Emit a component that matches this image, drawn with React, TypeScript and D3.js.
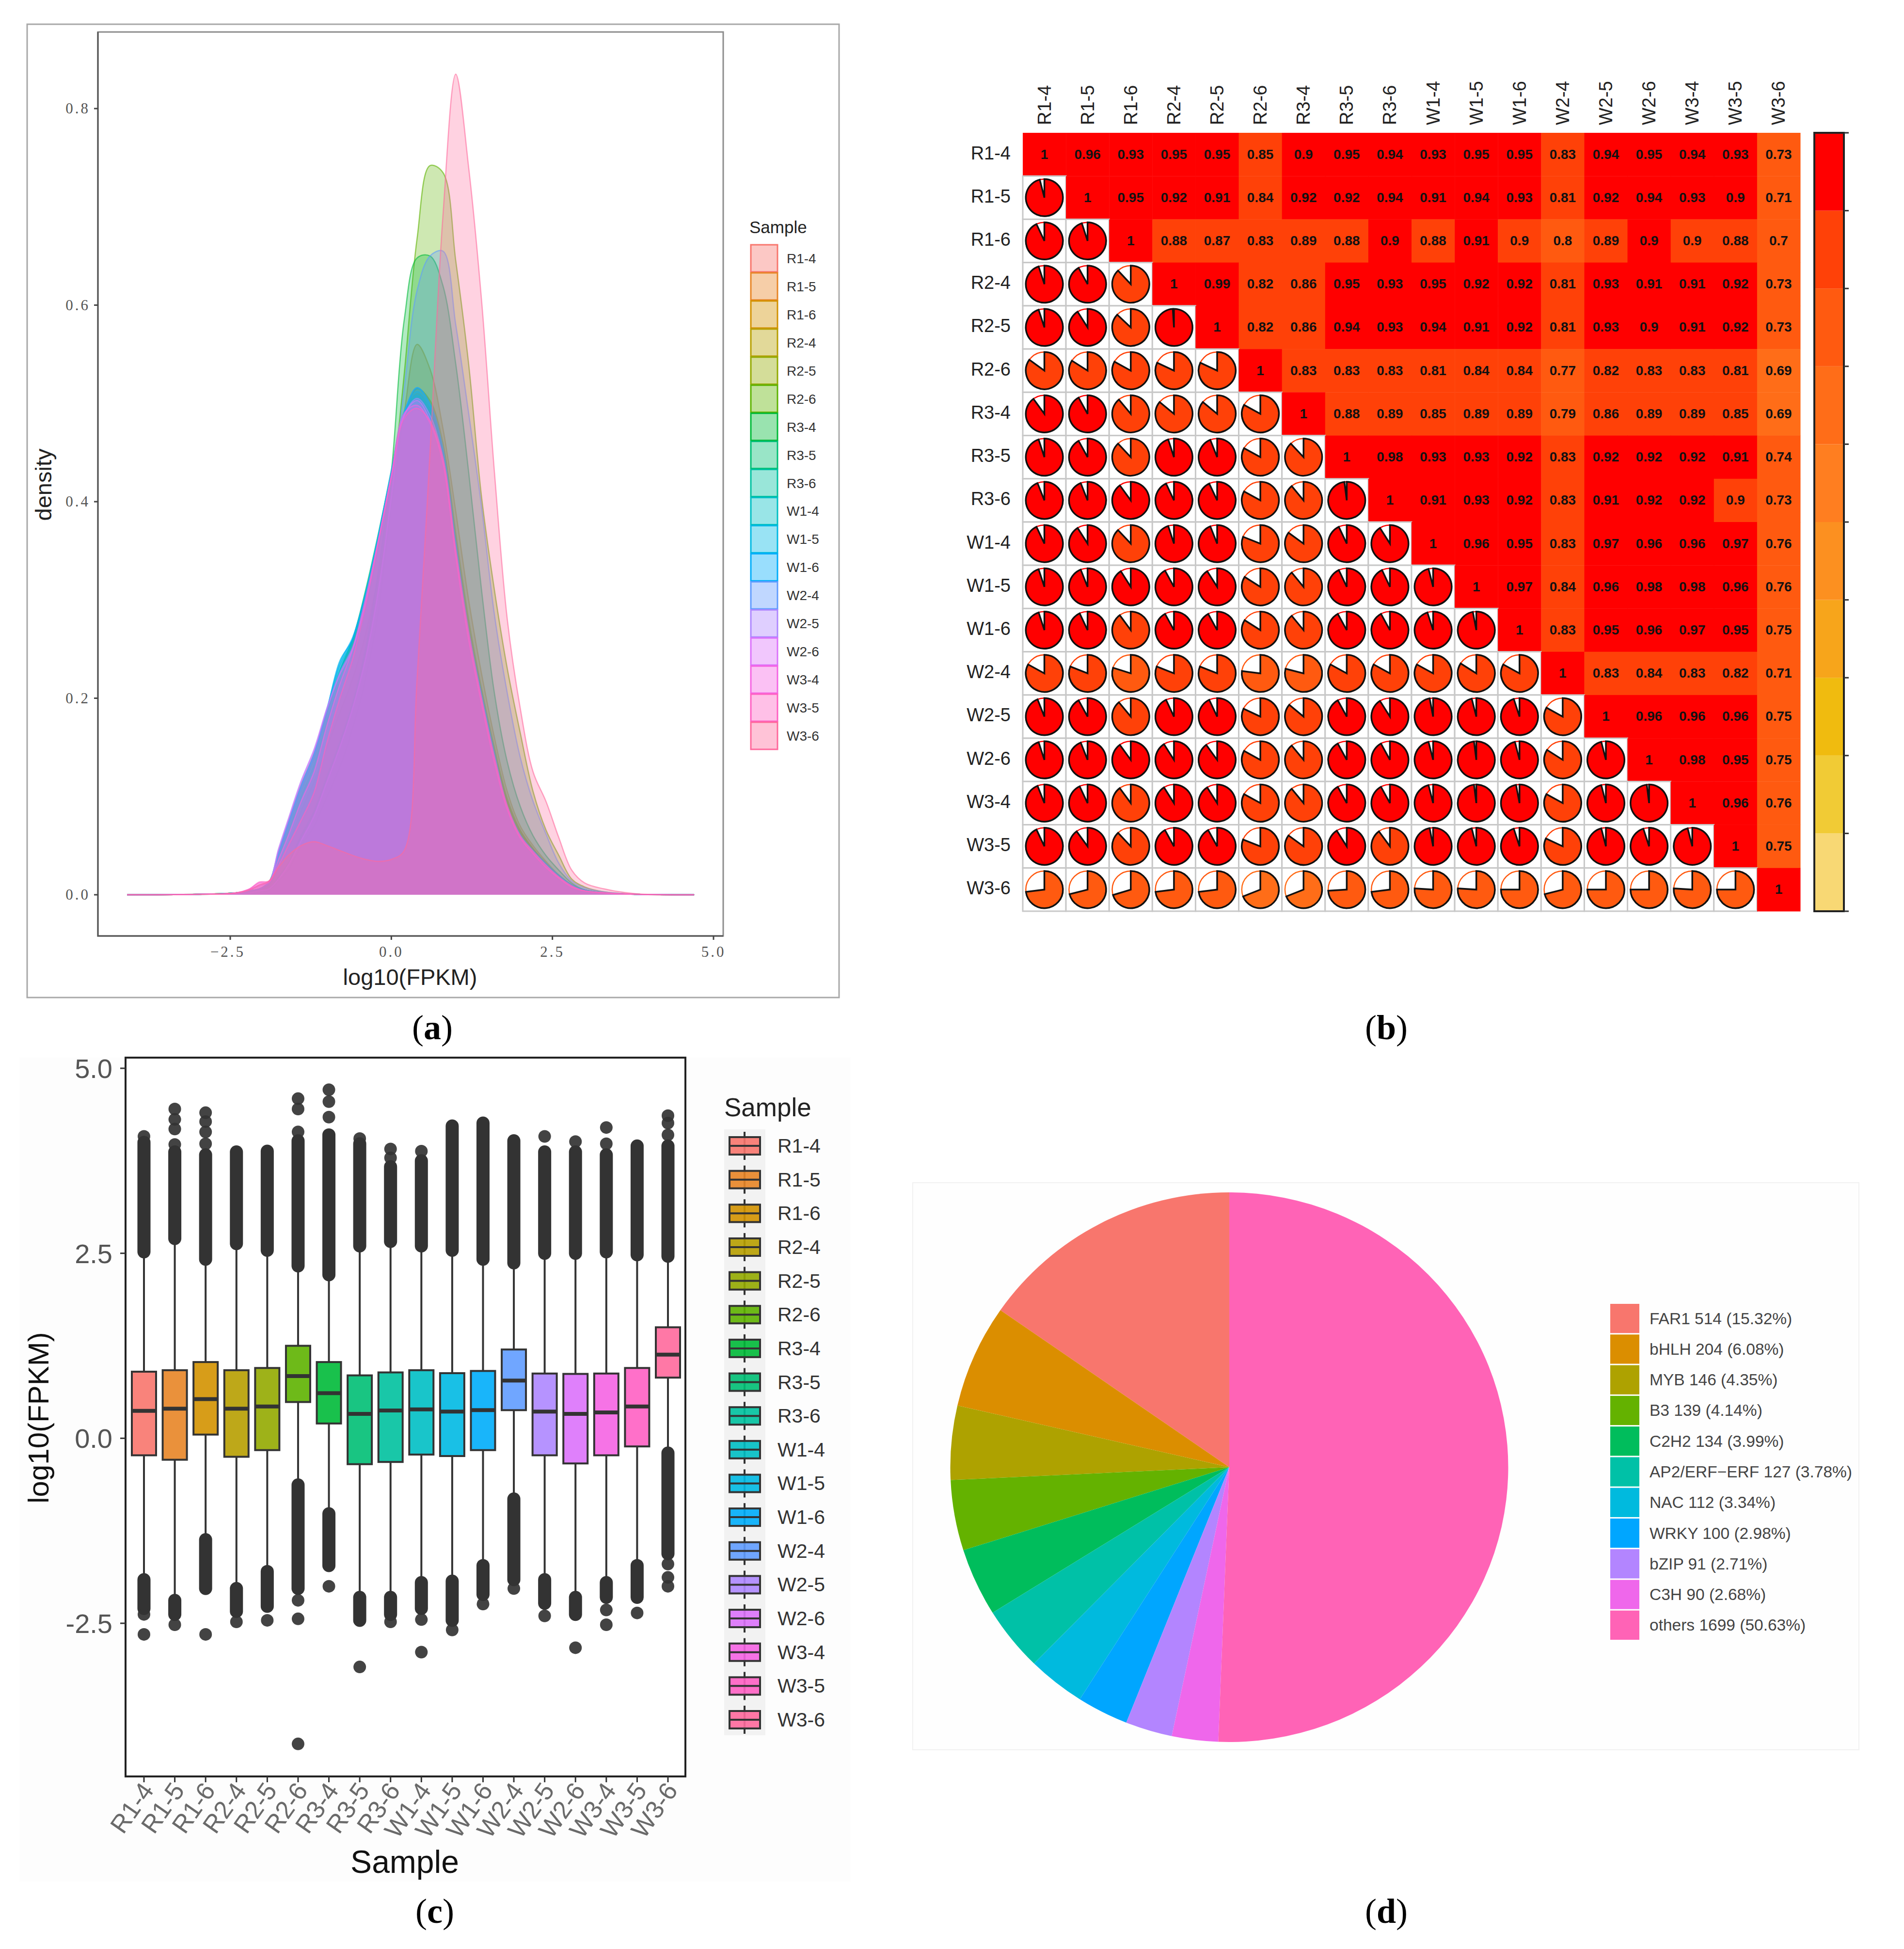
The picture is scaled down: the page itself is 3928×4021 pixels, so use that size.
import React from "react";
import * as d3 from "d3";

const samples = ["R1-4","R1-5","R1-6","R2-4","R2-5","R2-6","R3-4","R3-5","R3-6","W1-4","W1-5","W1-6","W2-4","W2-5","W2-6","W3-4","W3-5","W3-6"];
const hue18 = ["#F8766D","#E88526","#D39200","#B79F00","#93AA00","#5EB300","#00BA38","#00BF74","#00C19F","#00BFC4","#00B9E3","#00ADFA","#619CFF","#AE87FF","#DB72FB","#F564E3","#FF61C3","#FF699C"];

// (a) density curves, read at these log10(FPKM) positions
const densityX = [-4.1,-3,-2.4,-2.2,-2.05,-1.9,-1.75,-1.6,-1.4,-1.2,-1,-.8,-.6,-.4,-.2,0,.2,.4,.6,.8,1,1.2,1.4,1.6,1.8,2,2.2,2.4,2.6,2.8,3,3.3,3.8,4.7];
const dR14 = [0,.0005,.002,.004,.006,.011,.04,.07,.108,.14,.185,.225,.255,.30,.36,.425,.485,.505,.49,.445,.35,.265,.2,.14,.09,.062,.045,.03,.018,.009,.004,.002,.0005,0];
const dR15 = [0,.0005,.002,.004,.006,.012,.042,.072,.11,.143,.187,.226,.257,.302,.362,.426,.487,.51,.495,.45,.355,.27,.205,.145,.095,.065,.047,.032,.019,.01,.005,.002,.0005,0];
const dR16 = [0,.0005,.002,.003,.005,.008,.03,.052,.085,.115,.15,.185,.22,.265,.325,.395,.49,.56,.535,.475,.39,.30,.225,.16,.105,.07,.05,.034,.02,.01,.005,.002,.0005,0];
const dR24 = [0,.0005,.002,.004,.006,.011,.04,.068,.105,.138,.182,.222,.252,.298,.358,.423,.488,.515,.5,.452,.36,.272,.205,.145,.094,.064,.046,.031,.019,.01,.005,.002,.0005,0];
const dR25 = [0,.0005,.002,.004,.006,.01,.037,.064,.1,.132,.176,.216,.247,.294,.355,.42,.487,.515,.503,.46,.368,.28,.21,.15,.098,.066,.047,.032,.02,.01,.005,.002,.0005,0];
const dR26 = [0,.0005,.001,.002,.003,.005,.014,.025,.05,.07,.1,.13,.17,.22,.29,.40,.53,.668,.742,.735,.645,.54,.405,.31,.23,.165,.105,.066,.04,.016,.008,.003,.0005,0];
const dR34 = [0,.0005,.001,.002,.004,.006,.018,.032,.06,.085,.12,.155,.195,.25,.33,.43,.585,.648,.65,.62,.54,.43,.31,.205,.135,.09,.06,.04,.025,.012,.005,.002,.0005,0];
const dR35 = [0,.0005,.002,.004,.006,.013,.044,.074,.112,.144,.188,.228,.26,.31,.368,.43,.49,.505,.485,.44,.345,.26,.195,.135,.088,.06,.044,.03,.018,.009,.004,.002,.0005,0];
const dR36 = [0,.0005,.002,.004,.006,.013,.044,.073,.111,.143,.187,.228,.26,.308,.366,.43,.49,.508,.49,.445,.35,.264,.198,.138,.09,.061,.044,.03,.018,.009,.004,.002,.0005,0];
const dW14 = [0,.0005,.002,.004,.006,.012,.042,.071,.11,.142,.188,.233,.26,.307,.366,.432,.492,.512,.495,.448,.352,.265,.2,.14,.09,.061,.044,.03,.018,.009,.004,.002,.0005,0];
const dW15 = [0,.0005,.002,.004,.006,.012,.042,.072,.11,.142,.188,.238,.26,.305,.365,.43,.49,.516,.5,.455,.36,.27,.205,.145,.09,.06,.045,.032,.02,.01,.005,.002,.0005,0];
const dW16 = [0,.0005,.002,.004,.006,.012,.042,.072,.11,.143,.189,.236,.262,.306,.366,.43,.491,.516,.498,.452,.356,.268,.203,.142,.09,.061,.045,.031,.019,.01,.005,.002,.0005,0];
const dW24 = [0,.0005,.001,.002,.004,.006,.016,.03,.055,.08,.115,.15,.19,.24,.31,.405,.515,.615,.65,.655,.58,.49,.395,.285,.205,.14,.095,.062,.032,.014,.007,.003,.0005,0];
const dW25 = [0,.0005,.002,.005,.009,.013,.047,.077,.116,.148,.19,.226,.252,.298,.36,.425,.488,.505,.488,.445,.35,.265,.2,.14,.09,.06,.044,.03,.018,.009,.004,.002,.0005,0];
const dW26 = [0,.0005,.002,.005,.01,.013,.046,.076,.115,.147,.189,.224,.25,.297,.36,.425,.488,.503,.483,.44,.345,.26,.195,.135,.087,.058,.042,.028,.017,.008,.004,.002,.0005,0];
const dW34 = [0,.0005,.002,.006,.012,.013,.036,.06,.095,.125,.172,.214,.25,.302,.362,.428,.49,.498,.48,.44,.345,.26,.195,.135,.087,.058,.042,.028,.017,.008,.004,.002,.0005,0];
const dW35 = [0,.0005,.002,.006,.013,.014,.03,.05,.076,.104,.155,.2,.24,.295,.36,.425,.485,.495,.482,.445,.352,.268,.2,.14,.09,.06,.044,.03,.018,.009,.004,.002,.0005,0];
const dW36 = [0,.0005,.002,.005,.01,.014,.028,.04,.05,.054,.05,.045,.04,.036,.034,.036,.045,.22,.45,.69,.835,.74,.605,.43,.28,.19,.125,.095,.058,.025,.012,.006,.001,0];
const densityY = [dR14,dR15,dR16,dR24,dR25,dR26,dR34,dR35,dR36,dW14,dW15,dW16,dW24,dW25,dW26,dW34,dW35,dW36];

// (b) correlation, upper triangle row by row (a third decimal decides the colour band)
const corrRows = [
  [1,.96,.93,.95,.95,.85,.9,.95,.94,.93,.95,.95,.83,.94,.95,.94,.93,.73],
  [1,.95,.92,.91,.84,.92,.92,.94,.91,.94,.93,.81,.92,.94,.93,.9,.71],
  [1,.88,.87,.83,.89,.88,.9,.88,.91,.899,.799,.89,.9,.899,.88,.703],
  [1,.99,.82,.86,.95,.93,.95,.92,.92,.81,.93,.91,.91,.92,.73],
  [1,.82,.86,.94,.93,.94,.91,.92,.81,.93,.9,.91,.92,.73],
  [1,.83,.83,.83,.81,.84,.84,.77,.82,.83,.83,.81,.69],
  [1,.88,.89,.85,.89,.89,.79,.86,.89,.89,.85,.69],
  [1,.98,.93,.93,.92,.83,.92,.92,.92,.91,.74],
  [1,.91,.93,.92,.83,.91,.92,.92,.899,.73],
  [1,.96,.95,.83,.97,.96,.96,.97,.76],
  [1,.97,.84,.96,.98,.98,.96,.76],
  [1,.83,.95,.96,.97,.95,.75],
  [1,.83,.84,.83,.82,.71],
  [1,.96,.96,.96,.75],
  [1,.98,.95,.75],
  [1,.96,.76],
  [1,.75],
  [1],
];
const bandColors = ["#F8D874","#F1CB35","#F0BB0F","#F7A51B","#FC9020","#FF7E20","#FF6D18","#FF5A10","#FF4108","#FF0000"];
const bandBreaks = [.1,.2,.3,.4,.5,.6,.7,.8,.9];

// (c) box plot statistics
const boxQ1 = [-.23,-.29,.05,-.25,-.16,.49,.20,-.35,-.32,-.22,-.24,-.16,.38,-.23,-.34,-.23,-.11,.82];
const boxMed = [.37,.40,.53,.40,.43,.84,.61,.33,.375,.39,.36,.38,.78,.36,.33,.35,.43,1.13];
const boxQ3 = [.90,.92,1.03,.92,.95,1.25,1.03,.85,.89,.92,.88,.91,1.20,.875,.87,.875,.95,1.50];
const upperBand: [number,number][] = [[2.52,4.0],[2.70,3.87],[2.42,3.83],[2.63,3.87],[2.54,3.88],[2.33,4.02],[2.21,4.10],[2.60,3.98],[2.66,3.67],[2.60,3.75],[2.54,4.22],[2.42,4.26],[2.37,4.02],[2.5,3.87],[2.5,3.87],[2.52,3.83],[2.48,3.95],[2.46,3.95]];
const lowerBand: [number,number][] = [[-1.91,-2.30],[-2.19,-2.38],[-1.37,-2.03],[-2.03,-2.34],[-1.80,-2.27],[-.63,-2.03],[-1.02,-1.72],[-2.15,-2.46],[-2.15,-2.38],[-1.95,-2.3],[-1.93,-2.46],[-1.72,-2.11],[-.82,-1.91],[-1.91,-2.23],[-2.15,-2.38],[-1.95,-2.15],[-1.72,-2.15],[-.20,-1.56]];
const outliers: number[][] = [[4.08,-2.38,-2.65],[3.97,4.18,4.31,4.45,-2.52],[3.98,4.14,4.28,4.40,-2.65],[-2.48],[-2.46],[4.14,4.45,4.59,-2.19,-2.44,-4.13],[4.34,4.55,4.71,-2.0],[4.05,-3.09],[3.79,3.91,-2.48],[3.88,-2.45,-2.89],[-2.59],[-2.24],[-2.03],[4.08,-2.40],[4.01,-2.83],[3.98,4.2,-2.32,-2.52],[-2.36],[4.1,4.26,4.36,-1.70,-1.88,-2.0]];

// (d) transcription factor families
const pieLabels = ["FAR1 514 (15.32%)","bHLH 204 (6.08%)","MYB 146 (4.35%)","B3 139 (4.14%)","C2H2 134 (3.99%)","AP2/ERF−ERF 127 (3.78%)","NAC 112 (3.34%)","WRKY 100 (2.98%)","bZIP 91 (2.71%)","C3H 90 (2.68%)","others 1699 (50.63%)"];
const pieCounts = [514,204,146,139,134,127,112,100,91,90,1699];
const pieColors = ["#F8766D","#DB8E00","#AEA200","#64B200","#00BD5C","#00C1A7","#00BADE","#00A6FF","#B385FF","#EF67EB","#FF63B6"];

const sans = "'Liberation Sans', Arial, sans-serif";
const serif = "'Liberation Serif', serif";

function PanelLabel({ x, y, letter }: { x: number; y: number; letter: string }) {
  return (
    <text x={x} y={y} textAnchor="middle" fontFamily={serif} fontSize={72} fill="#000">
      (<tspan fontWeight="bold">{letter}</tspan>)
    </text>
  );
}

function DensityPanel() {
  const x = d3.scaleLinear().domain([-2.5, 5]).range([475, 1472]);
  const y = d3.scaleLinear().domain([0, 0.8]).range([1846, 224]);
  const area = d3.area<number>().x((_, i) => x(densityX[i])).y0(y(0)).y1(d => y(d)).curve(d3.curveCatmullRom);
  const line = d3.line<number>().x((_, i) => x(densityX[i])).y(d => y(d)).curve(d3.curveCatmullRom);
  const legendY = d3.scaleBand<string>().domain(samples).range([504, 1547]);
  return (
    <g>
      <rect x={56} y={50} width={1675} height={2008} fill="#fff" stroke="#a8a8a8" strokeWidth={3} />
      <rect x={202} y={66} width={1290} height={1865} fill="#fff" stroke="#8c8c8c" strokeWidth={3} />
      <path d="M202 66V1931H1492" fill="none" stroke="#555" strokeWidth={3} />
      {densityY.map((s, i) => (
        <g key={samples[i]}>
          <path d={area(s) || ""} fill={hue18[i]} fillOpacity={0.3} />
          <path d={line(s) || ""} fill="none" stroke={hue18[i]} strokeWidth={2.5} strokeOpacity={0.6} />
        </g>
      ))}
      {[0, .2, .4, .6, .8].map(t => (
        <g key={t}>
          <line x1={194} x2={202} y1={y(t)} y2={y(t)} stroke="#444" strokeWidth={3} />
          <text x={186} y={y(t) + 10} textAnchor="end" fontFamily={serif} fontSize={31} letterSpacing={4} fill="#555">{t.toFixed(1)}</text>
        </g>
      ))}
      {[-2.5, 0, 2.5, 5].map(t => (
        <g key={t}>
          <line x1={x(t)} x2={x(t)} y1={1931} y2={1939} stroke="#444" strokeWidth={3} />
          <text x={x(t) - (t === -2.5 ? 5 : 0)} y={1974} textAnchor="middle" fontFamily={serif} fontSize={31} letterSpacing={4} fill="#555">{t === -2.5 ? "−2.5" : t.toFixed(1)}</text>
        </g>
      ))}
      <text x={846} y={2032} textAnchor="middle" fontFamily={sans} fontSize={47} fill="#222">log10(FPKM)</text>
      <text transform="translate(106,1000) rotate(-90)" textAnchor="middle" fontFamily={sans} fontSize={47} fill="#222">density</text>
      <text x={1546} y={481} fontFamily={sans} fontSize={35} fill="#222">Sample</text>
      {samples.map((s, i) => (
        <g key={s}>
          <rect x={1549} y={legendY(s)! + 1} width={55} height={legendY.bandwidth() - 2} fill={hue18[i]} fillOpacity={0.4} stroke={hue18[i]} strokeWidth={3} />
          <text x={1623} y={legendY(s)! + legendY.bandwidth() / 2 + 10} fontFamily={sans} fontSize={28} fill="#333">{s}</text>
        </g>
      ))}
    </g>
  );
}

function CorrPanel() {
  const xy = d3.scaleBand<string>().domain(samples).range([2110, 3714]);
  const yy = d3.scaleBand<string>().domain(samples).range([274, 1880]);
  const colour = d3.scaleThreshold<number, string>().domain(bandBreaks).range(bandColors);
  const cell = xy.bandwidth();
  const arc = d3.arc<{ v: number }>().innerRadius(0).outerRadius(cell * 0.43).startAngle(0).endAngle(d => d.v * 2 * Math.PI);
  const barY = d3.scaleLinear().domain([0, 1]).range([1880, 274]);
  const cbL = 3743, cbR = 3804;
  const cells = samples.flatMap((_, r) => samples.map((__, c) => ({ r, c, v: r <= c ? corrRows[r][c - r] : corrRows[c][r - c] })));
  return (
    <g>
      {cells.map(({ r, c, v }) => {
        const cx = xy(samples[c])!, cy = yy(samples[r])!;
        if (r <= c) {
          return (
            <g key={`${r}-${c}`}>
              <rect x={cx} y={cy} width={cell + 0.5} height={cell + 0.5} fill={colour(v)} />
            </g>
          );
        }
        return (
          <g key={`${r}-${c}`}>
            <rect x={cx} y={cy} width={cell} height={cell} fill="#fff" stroke="#c8c8c8" strokeWidth={3} />
            <g transform={`translate(${cx + cell / 2},${cy + cell / 2})`}>
              <circle r={cell * 0.43} fill="none" stroke={colour(v)} strokeWidth={2.5} />
              <path d={arc({ v }) || ""} fill={colour(v)} stroke="#111" strokeWidth={3.5} />
            </g>
          </g>
        );
      })}
      {cells.filter(d => d.r <= d.c).map(({ r, c, v }) => (
        <text key={`t${r}-${c}`} x={xy(samples[c])! + cell / 2} y={yy(samples[r])! + cell / 2 + 9} textAnchor="middle" fontFamily={sans} fontWeight="bold" fontSize={28} fill="#111">
          {String(parseFloat(v.toFixed(2)))}
        </text>
      ))}
      {samples.map(s => (
        <g key={s}>
          <text x={2085} y={yy(s)! + cell / 2 + 10} textAnchor="end" fontFamily={sans} fontSize={38} fill="#222">{s}</text>
          <text transform={`translate(${xy(s)! + cell / 2 + 13},258) rotate(-90)`} fontFamily={sans} fontSize={38} fill="#222">{s}</text>
        </g>
      ))}
      {bandColors.map((col, i) => (
        <rect key={col} x={cbL} y={barY((i + 1) / 10)} width={cbR - cbL} height={barY(i / 10) - barY((i + 1) / 10)} fill={col} />
      ))}
      <rect x={cbL} y={274} width={cbR - cbL} height={1606} fill="none" stroke="#222" strokeWidth={4} />
      {d3.range(0, 11).map(i => (
        <line key={i} x1={cbR} x2={cbR + 10} y1={barY(i / 10)} y2={barY(i / 10)} stroke="#333" strokeWidth={3} />
      ))}
    </g>
  );
}

function BoxPanel() {
  const x = d3.scalePoint<string>().domain(samples).range([297, 1378]);
  const y = d3.scaleLinear().domain([-2.5, 5]).range([3349, 2204]);
  const hw = 25;
  const dark = "#333";
  const legendY = d3.scalePoint<string>().domain(samples).range([2364, 3548]);
  return (
    <g>
      <rect x={40} y={2182} width={1715} height={1700} fill="#fdfdfd" />
      <rect x={259} y={2182} width={1155} height={1483} fill="#fff" stroke="#222" strokeWidth={4} />
      {samples.map((s, i) => {
        const cx = x(s)!;
        return (
          <g key={s}>
            <line x1={cx} x2={cx} y1={y(boxQ3[i])} y2={y(upperBand[i][0])} stroke={dark} strokeWidth={4} />
            <line x1={cx} x2={cx} y1={y(boxQ1[i])} y2={y(lowerBand[i][0])} stroke={dark} strokeWidth={4} />
            <line x1={cx} x2={cx} y1={y(upperBand[i][0])} y2={y(upperBand[i][1])} stroke={dark} strokeWidth={27} strokeLinecap="round" />
            <line x1={cx} x2={cx} y1={y(lowerBand[i][0])} y2={y(lowerBand[i][1])} stroke={dark} strokeWidth={27} strokeLinecap="round" />
            {outliers[i].map(v => <circle key={v} cx={cx} cy={y(v)} r={13} fill={dark} fillOpacity={0.92} />)}
            <rect x={cx - hw} y={y(boxQ3[i])} width={2 * hw} height={y(boxQ1[i]) - y(boxQ3[i])} fill={hue18[i]} fillOpacity={0.9} stroke={dark} strokeWidth={4} />
            <line x1={cx - hw} x2={cx + hw} y1={y(boxMed[i])} y2={y(boxMed[i])} stroke={dark} strokeWidth={8} />
            <line x1={cx} x2={cx} y1={3665} y2={3677} stroke={dark} strokeWidth={3} />
            <text transform={`translate(${cx + 22},3694) rotate(-55)`} textAnchor="end" fontFamily={sans} fontSize={52} fill="#6a6a6a">{s}</text>
          </g>
        );
      })}
      {[-2.5, 0, 2.5, 5].map(t => (
        <g key={t}>
          <line x1={248} x2={259} y1={y(t)} y2={y(t)} stroke={dark} strokeWidth={3} />
          <text x={232} y={y(t) + 20} textAnchor="end" fontFamily={sans} fontSize={56} fill="#555">{t.toFixed(1)}</text>
        </g>
      ))}
      <text x={835} y={3864} textAnchor="middle" fontFamily={sans} fontSize={66} fill="#111">Sample</text>
      <text transform="translate(100,2925) rotate(-90)" textAnchor="middle" fontFamily={sans} fontSize={60} fill="#111">log10(FPKM)</text>
      <text x={1494} y={2303} fontFamily={sans} fontSize={53} fill="#222">Sample</text>
      <rect x={1494} y={2330} width={85} height={1250} fill="#f2f2f2" />
      {samples.map((s, i) => {
        const ly = legendY(s)!;
        return (
          <g key={s}>
            <line x1={1536} x2={1536} y1={ly - 29} y2={ly + 29} stroke={dark} strokeWidth={4} />
            <rect x={1505} y={ly - 18} width={63} height={36} fill={hue18[i]} fillOpacity={0.9} stroke={dark} strokeWidth={4} />
            <line x1={1505} x2={1568} y1={ly} y2={ly} stroke={dark} strokeWidth={4} />
            <text x={1604} y={ly + 14} fontFamily={sans} fontSize={41} fill="#333">{s}</text>
          </g>
        );
      })}
    </g>
  );
}

function PiePanel() {
  const arcs = d3.pie<number>().sort(null).startAngle(0).endAngle(-2 * Math.PI)(pieCounts);
  const arc = d3.arc<d3.PieArcDatum<number>>().innerRadius(0).outerRadius(567);
  const legendY = d3.scaleBand<string>().domain(pieLabels).range([2689, 3385]);
  return (
    <g>
      <rect x={1883} y={2440} width={1952} height={1170} fill="#fefefe" stroke="#f1f1f1" strokeWidth={2} />
      <g transform="translate(2536,3027) scale(1.015,1)">
        {arcs.map((a, i) => <path key={pieLabels[i]} d={arc(a) || ""} fill={pieColors[i]} />)}
      </g>
      {pieLabels.map((l, i) => (
        <g key={l}>
          <rect x={3322} y={legendY(l)! + 1} width={60} height={legendY.bandwidth() - 3} fill={pieColors[i]} />
          <text x={3403} y={legendY(l)! + legendY.bandwidth() / 2 + 11} fontFamily={sans} fontSize={33.5} fill="#444">{l}</text>
        </g>
      ))}
    </g>
  );
}

export default function App() {
  return (
    <svg width={3928} height={4021} viewBox="0 0 3928 4021" style={{ position: "absolute", left: 0, top: 0, display: "block", background: "#fff" }}>
      <DensityPanel />
      <CorrPanel />
      <BoxPanel />
      <PiePanel />
      <PanelLabel x={892} y={2144} letter="a" />
      <PanelLabel x={2860} y={2144} letter="b" />
      <PanelLabel x={897} y={3967} letter="c" />
      <PanelLabel x={2860} y={3967} letter="d" />
    </svg>
  );
}
